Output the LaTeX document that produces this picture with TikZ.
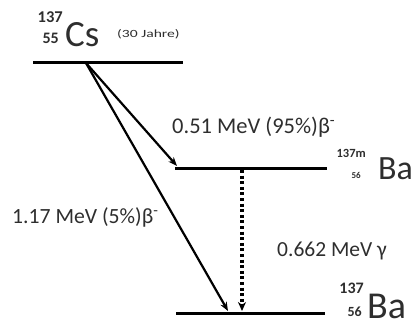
\documentclass[tikz,border=0pt]{standalone}
\usepackage{fontspec}
\usepackage{graphicx}
\setmainfont{Carlito}
\usetikzlibrary{arrows.meta}
\definecolor{txt}{HTML}{2E2E2E}
\tikzset{
  level/.style={line width=3pt, black},
  decay/.style={line width=2.2pt, black, -{Stealth[length=9pt,width=7pt]}},
  gam/.style={line width=3.2pt, black, dash pattern=on 3pt off 2.6pt, -{Stealth[length=9pt,width=8pt]}},
  lbl/.style={anchor=base west, inner sep=0pt, text=txt},
  elem/.style={anchor=base west, inner sep=0pt, text=txt},
  iso/.style={anchor=base east, inner sep=0pt, text=txt},
}
\begin{document}
\begin{tikzpicture}[x=1pt,y=-1pt]
\useasboundingbox (0,0) rectangle (415,330);
% levels
\coordinate (cs1) at (33,62);
\coordinate (cs2) at (183,62);
\coordinate (bm1) at (175,168);
\coordinate (bm2) at (327,168);
\coordinate (b1) at (176,313);
\coordinate (b2) at (325,313);
\draw[level] (cs1) -- (cs2);
\draw[level] (bm1) -- (bm2);
\draw[level] (b1) -- (b2);
% decay arrows
\coordinate (src) at (86,63);
\coordinate (t1) at (177,166);
\coordinate (t2) at (228,311);
\coordinate (g1) at (242,170);
\coordinate (g2) at (242,311);
\draw[decay] (src) -- (t1);
\draw[decay] (src) -- (t2);
\draw[gam] (g1) -- (g2);
% element labels
\node[elem, font=\fontsize{37}{40}\selectfont] (cs) at (65,46) {Cs};
\node[iso, font=\bfseries\fontsize{16.5}{18}\selectfont] (csA) at (63,22) {137};
\node[iso, font=\bfseries\fontsize{16}{18}\selectfont] (csZ) at (59,43) {55};
\node[anchor=base west, inner sep=0pt, text=txt, font=\fontsize{11}{12}\selectfont] (half) at (117,37) {\scalebox{1.42}[1]{(30 Jahre)}};
\node[elem, font=\fontsize{34}{36}\selectfont] (bam) at (378,179) {Ba};
\node[iso, font=\bfseries\fontsize{12.5}{14}\selectfont] (bamA) at (366,157) {137m};
\node[iso, font=\bfseries\fontsize{9}{10}\selectfont] (bamZ) at (361,178) {56};
\node[elem, font=\fontsize{38}{42}\selectfont] (ba) at (367,318) {Ba};
\node[iso, font=\bfseries\fontsize{16}{18}\selectfont] (baA) at (364,293) {137};
\node[iso, font=\bfseries\fontsize{14}{16}\selectfont] (baZ) at (362,316) {56};
% transition labels
\node[lbl, font=\fontsize{22.5}{24}\selectfont] (l1) at (172,133) {0.51 MeV (95\%)β\textsuperscript{-}};
\node[lbl, font=\fontsize{21.7}{24}\selectfont] (l2) at (12,223) {1.17 MeV (5\%)β\textsuperscript{-}};
\node[lbl, font=\fontsize{21.5}{24}\selectfont] (l3) at (277,256) {0.662 MeV γ};
\end{tikzpicture}
\end{document}
